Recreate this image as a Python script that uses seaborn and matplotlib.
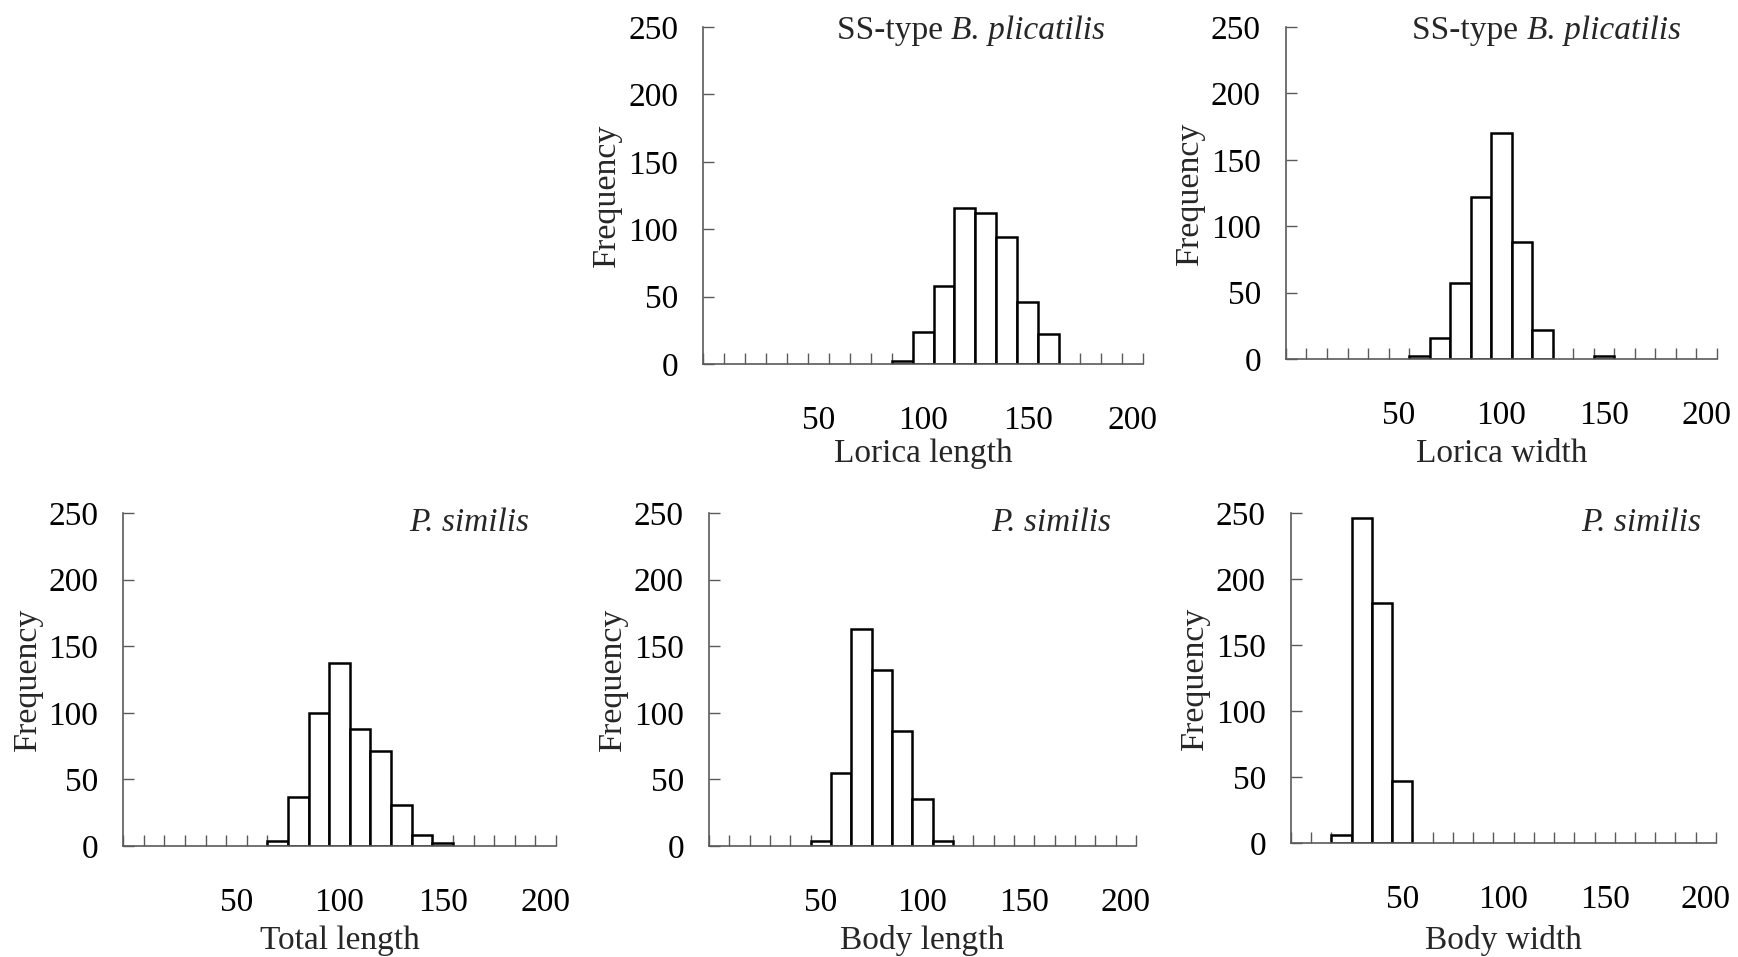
import numpy as np
import pandas as pd
import matplotlib
matplotlib.use("Agg")
import matplotlib.pyplot as plt
import seaborn as sns

# category axis: size classes (10-unit bins)
size_classes = [0, 10, 20, 30, 40, 50, 60, 70, 80, 90, 100,
                110, 120, 130, 140, 150, 160, 170, 180, 190, 200]
tick_values = [50, 100, 150, 200]

# SS-type B. plicatilis
lorica_length_bins = [90, 100, 110, 120, 130, 140, 150, 160]
lorica_length_freq = [2, 24, 58, 116, 112, 94, 46, 22]

lorica_width_bins = [60, 70, 80, 90, 100, 110, 120, 150]
lorica_width_freq = [2, 16, 57, 122, 170, 88, 22, 2]

# P. similis
total_length_bins = [70, 80, 90, 100, 110, 120, 130, 140, 150]
total_length_freq = [4, 37, 100, 137, 88, 71, 31, 8, 2]

body_length_bins = [50, 60, 70, 80, 90, 100, 110]
body_length_freq = [4, 55, 163, 132, 86, 35, 4]

body_width_bins = [20, 30, 40, 50]
body_width_freq = [6, 246, 182, 47]

# (plain prefix, italic species name)
SS_TITLE = ("SS-type ", "B. plicatilis")
PS_TITLE = ("", "P. similis")

sns.set_theme(style="white")
plt.rcParams["font.family"] = ["Liberation Serif", "DejaVu Serif"]

fig = plt.figure(figsize=(17.38, 9.57), dpi=100)

# (bins, freq, xlabel, title, axes rect, title x, title y, xlabel pad)
panels = [
    (lorica_length_bins, lorica_length_freq, "Lorica length", SS_TITLE,
     [0.4045, 0.6196, 0.2532, 0.3521], 0.914, 0.99, 2),
    (lorica_width_bins, lorica_width_freq, "Lorica width", SS_TITLE,
     [0.7399, 0.6249, 0.2480, 0.3469], 0.916, 0.99, 5),
    (total_length_bins, total_length_freq, "Total length", PS_TITLE,
     [0.0708, 0.1160, 0.2491, 0.3480], 0.938, 0.97, 5),
    (body_length_bins, body_length_freq, "Body length", PS_TITLE,
     [0.4079, 0.1160, 0.2457, 0.3480], 0.941, 0.97, 5),
    (body_width_bins, body_width_freq, "Body width", PS_TITLE,
     [0.7428, 0.1191, 0.2445, 0.3448], 0.965, 0.97, 7),
]

order = [str(c) for c in size_classes]
spine_color = "#5a5a5a"

for bins, freq, xlabel, title, rect, tx, ty, xpad in panels:
    ax = fig.add_axes(rect)
    df = pd.DataFrame({"size": [str(b) for b in bins], "freq": freq})
    sns.barplot(data=df, x="size", y="freq", order=order, width=1.0,
                color="white", saturation=1, edgecolor="black",
                linewidth=1.8, ax=ax)

    ax.set_xlim(-0.5, len(size_classes) - 0.5)
    ax.set_ylim(0, 250)
    ax.set_yticks([0, 50, 100, 150, 200, 250])
    ax.set_yticklabels(["0", "50", "100", "150", "200", "250"])

    ax.set_xticks([size_classes.index(v) for v in tick_values])
    ax.set_xticklabels([str(v) for v in tick_values])
    ax.set_xticks(np.arange(-0.5, len(size_classes)), minor=True)

    ax.tick_params(axis="x", which="major", bottom=True, length=0, pad=30,
                   labelsize=24, colors="black")
    ax.tick_params(axis="x", which="minor", bottom=True, direction="in",
                   length=8, width=1, color=spine_color)
    ax.tick_params(axis="y", which="major", left=True, direction="in",
                   length=8, width=1, color=spine_color, pad=18,
                   labelsize=24, labelcolor="black")

    for side in ["top", "right"]:
        ax.spines[side].set_visible(False)
    for side in ["left", "bottom"]:
        ax.spines[side].set_color(spine_color)
        ax.spines[side].set_linewidth(1.2)

    ax.set_xlabel(xlabel, fontsize=24, labelpad=xpad)
    ax.set_ylabel("Frequency", fontsize=24.5, labelpad=4)

    prefix, species = title
    sp = ax.text(tx, ty, species, transform=ax.transAxes, ha="right",
                 va="center", fontsize=24, style="italic")
    if prefix:
        ax.annotate(prefix, xy=(0, 0.5), xycoords=sp, ha="right",
                    va="center", fontsize=24)
    ax.patch.set_alpha(0)

fig.savefig("out.png", dpi=100)
